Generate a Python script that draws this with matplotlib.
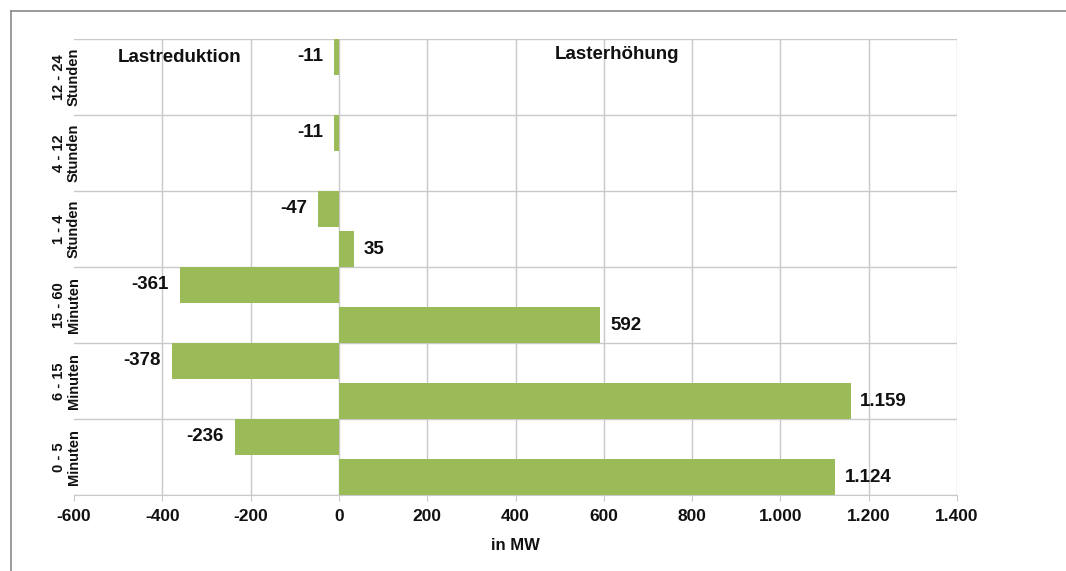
import numpy as np
import matplotlib
matplotlib.use("Agg")
import matplotlib.pyplot as plt
from matplotlib.lines import Line2D

# Flexibilitätspotenzial je Zeitdauer (in MW)
categories = ["0 - 5\nMinuten", "6 - 15\nMinuten", "15 - 60\nMinuten",
              "1 - 4\nStunden", "4 - 12\nStunden", "12 - 24\nStunden"]
lastreduktion = [-236, -378, -361, -47, -11, -11]
lasterhoehung = [1124, 1159, 592, 35, 0, 0]
x_ticks = [-600, -400, -200, 0, 200, 400, 600, 800, 1000, 1200, 1400]

GREEN = "#9BBB59"
GRID = "#c9c9c9"
SANS = ["Liberation Sans", "DejaVu Sans"]


def de_format(v):
    return f"{v:,}".replace(",", ".")


fig = plt.figure(figsize=(10.66, 5.71), dpi=100)
fig.patch.set_facecolor("white")
ax = fig.add_axes([74 / 1066, 1 - 495 / 571, (957 - 74) / 1066, (495 - 39) / 571])

y = np.arange(len(categories))
h = 0.47
off = 0.265
ax.barh(y + off, lastreduktion, height=h, color=GREEN, zorder=2)
ax.barh(y - off, lasterhoehung, height=h, color=GREEN, zorder=2)

label_kw = dict(textcoords="offset points", va="center", fontsize=13.5,
                fontweight="bold", family=SANS, color="#111111")
for yi, v in zip(y, lastreduktion):
    if v != 0:
        ax.annotate(de_format(v), xy=(v, yi + off), xytext=(-8, 0), ha="right", **label_kw)
for yi, v in zip(y, lasterhoehung):
    if v != 0:
        ax.annotate(de_format(v), xy=(v, yi - off), xytext=(7, 0), ha="left", **label_kw)

ax.set_xlim(-600, 1400)
ax.set_ylim(-0.5, len(categories) - 0.5)
ax.set_xticks(x_ticks)
ax.set_xticklabels([de_format(t) for t in x_ticks], fontsize=12.5,
                   fontweight="bold", family=SANS, color="#111111")
ax.set_yticks(y)
ax.set_yticklabels(categories, rotation=90, va="center", ha="right",
                   multialignment="center", fontsize=10.5, fontweight="bold",
                   family=SANS, linespacing=1.05, color="#111111")
ax.set_yticks(np.arange(-0.5, len(categories), 1), minor=True)
ax.tick_params(axis="y", which="both", length=0, pad=-5)
ax.tick_params(axis="x", length=4, color=GRID, pad=6)

ax.set_axisbelow(True)
ax.grid(axis="x", which="major", color=GRID, lw=1)
ax.grid(axis="y", which="minor", color=GRID, lw=1)
ax.get_xgridlines()[0].set_visible(False)
for s in ax.spines.values():
    s.set_visible(False)
ax.spines["bottom"].set_visible(True)
ax.spines["bottom"].set_color(GRID)

ax.set_xlabel("in MW", fontsize=12, fontweight="bold", family=SANS,
              color="#111111", labelpad=10)

ax.text(-500, 5.26, "Lastreduktion", fontsize=13.5, fontweight="bold",
        family=SANS, ha="left", va="center", color="#111111")
ax.text(489, 5.29, "Lasterhöhung", fontsize=13.5, fontweight="bold",
        family=SANS, ha="left", va="center", color="#111111")

# outer frame (top and left edges)
fy = 1 - 10.5 / 571
fx = 10.5 / 1066
fig.add_artist(Line2D([fx, 1], [fy, fy], transform=fig.transFigure, color="#8a8a8a", lw=1.2))
fig.add_artist(Line2D([fx, fx], [0, fy], transform=fig.transFigure, color="#8a8a8a", lw=1.2))

fig.savefig("out.png", dpi=100, facecolor="white")
